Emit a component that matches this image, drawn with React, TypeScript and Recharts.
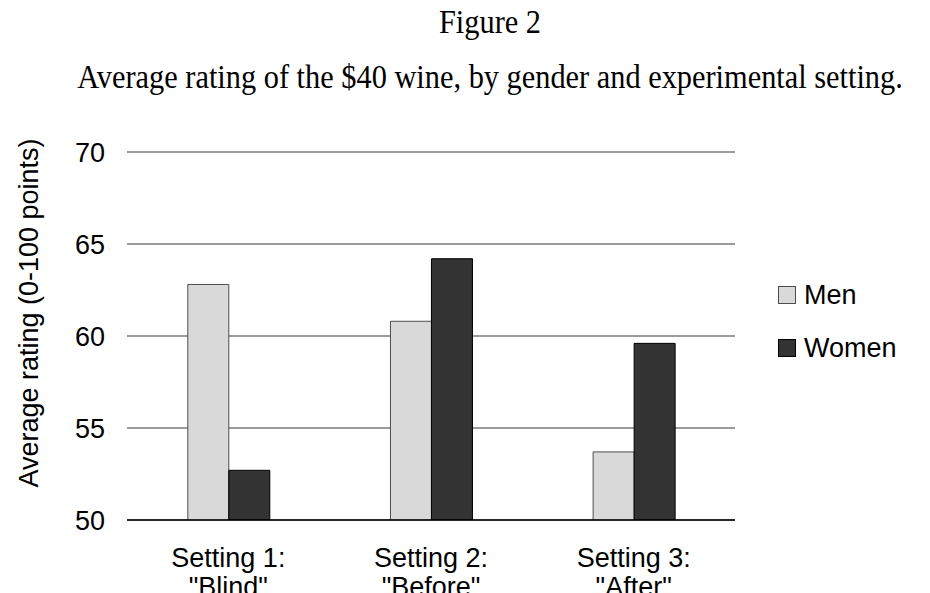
import React from "react";
import { BarChart, Bar, XAxis, YAxis, CartesianGrid } from "recharts";

const settings = ['Setting 1:\n"Blind"', 'Setting 2:\n"Before"', 'Setting 3:\n"After"'];
const men = [62.8, 60.8, 53.7];
const women = [52.7, 64.2, 59.6];
const yTicks = [50, 55, 60, 65, 70];

const data = settings.map((s, i) => ({ setting: s, Men: men[i], Women: women[i] }));

const SANS = "'Liberation Sans', Arial, sans-serif";
const SERIF = "'Liberation Serif', 'Times New Roman', serif";

const SERIES = [
  { key: "Men", fill: "#d9d9d9", stroke: "#4d4d4d" },
  { key: "Women", fill: "#333333", stroke: "#000000" },
];

function SettingTick({ x, y, payload }: any) {
  const lines = String(payload.value).split("\n");
  return (
    <g transform={`translate(${x},${y})`}>
      {lines.map((l, i) => (
        <text key={i} x={0} y={39 + i * 29} textAnchor="middle" fill="#000" fontSize={27} fontFamily={SANS}>
          {l}
        </text>
      ))}
    </g>
  );
}

function YTitle() {
  return (
    <text
      x={38}
      y={313}
      transform="rotate(-90 38 313)"
      textAnchor="middle"
      fill="#000"
      fontSize={27}
      fontFamily={SANS}
    >
      Average rating (0-100 points)
    </text>
  );
}

function LegendBox() {
  return (
    <div style={{ position: "absolute", left: 778, top: 280, fontFamily: SANS, fontSize: 27, color: "#000" }}>
      {SERIES.map((s, i) => (
        <div key={s.key} style={{ display: "flex", alignItems: "center", height: 30, marginBottom: i === 0 ? 23 : 0 }}>
          <span
            style={{
              width: 16,
              height: 16,
              background: s.fill,
              border: `1px solid ${s.stroke}`,
              marginRight: 8,
              display: "inline-block",
            }}
          />
          {s.key}
        </div>
      ))}
    </div>
  );
}

const titleStyle: React.CSSProperties = {
  position: "absolute",
  left: 0,
  width: 980,
  textAlign: "center",
  fontFamily: SERIF,
  fontSize: 33,
  lineHeight: "33px",
  whiteSpace: "nowrap",
  transform: "scaleX(0.92)",
  transformOrigin: "490px 0",
};

export default function App() {
  return (
    <div style={{ position: "absolute", left: 0, top: 0, width: 930, height: 593, background: "#fff", overflow: "hidden" }}>
      <div style={{ ...titleStyle, top: 6 }}>Figure 2</div>
      <div style={{ ...titleStyle, top: 61 }}>
        Average rating of the $40 wine, by gender and experimental setting.
      </div>
      <BarChart
        width={930}
        height={593}
        data={data}
        margin={{ top: 152, right: 195, bottom: 0, left: 0 }}
        barCategoryGap="30%"
        barGap={0}
        style={{ position: "absolute", left: 0, top: 0 }}
      >
        <CartesianGrid vertical={false} stroke="#7a7a7a" strokeWidth={1.3} />
        <XAxis
          dataKey="setting"
          height={73}
          tickLine={false}
          axisLine={{ stroke: "#000", strokeWidth: 1.5 }}
          tick={<SettingTick />}
          interval={0}
        />
        <YAxis
          width={127}
          domain={[50, 70]}
          ticks={yTicks}
          allowDataOverflow
          axisLine={false}
          tickLine={false}
          tickSize={0}
          tickMargin={22}
          tick={{ fill: "#000", fontSize: 27, fontFamily: SANS }}
        />
        {SERIES.map((s) => (
          <Bar key={s.key} dataKey={s.key} fill={s.fill} stroke={s.stroke} strokeWidth={1} isAnimationActive={false} />
        ))}
        <YTitle />
      </BarChart>
      <LegendBox />
    </div>
  );
}
